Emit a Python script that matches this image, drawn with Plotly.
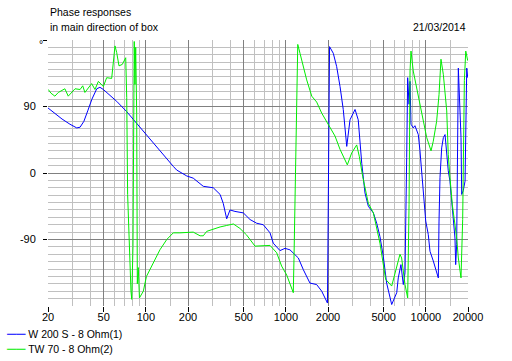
import plotly.graph_objects as go

# ---- data (frequency in Hz, phase in degrees) ----
w200_freq = [20, 22.4, 25.2, 28.7, 32.1, 33.9, 36.1, 38.6, 41.2, 44.6, 47, 49.7, 55.5, 61.9, 73, 86, 101,
             119, 141, 157, 166, 185, 196, 218, 231, 257, 303, 339, 357, 378, 399, 433, 497, 555, 619,
             690, 771, 813, 908, 986, 1070, 1228, 1334, 1486, 1660, 1804, 1982, 2052, 2182, 2306, 2438,
             2570, 2722, 2872, 3120, 3288, 3484, 3674, 3882, 4218, 4456, 4700, 4966, 5248, 5702, 6194,
             6354, 6638, 6902, 7096, 7296, 7414, 7586, 7710, 7834, 8128, 8356, 8832, 9078, 9334, 9594,
             9978, 10400, 10708, 11298, 11940, 12276, 12418, 12620, 12972, 13336, 13710, 14094, 14456,
             14860, 15312, 15704, 16144, 16332, 16598, 17062, 17540, 17826, 18032, 18494, 19056, 19276,
             19590, 19908]
w200_phase = [88, 80, 73, 66, 61, 62, 70, 85, 100, 114, 116, 113, 105, 97, 83, 67, 52,
              36, 18, 9, 4, -2, -4, -7, -11, -18, -20, -29, -41, -62, -50, -52, -54, -63, -68,
              -70, -81, -95, -105, -102, -104, -115, -131, -149, -151, -160, -176, 171, 162, 144, 117,
              86, 36, 72, 86, 72, 13, -27, -45, -54, -68, -86, -113, -149, -178, -162,
              -142, -124, -151, -135, 21, 129, 93, 124, 66, 61, 64, 52, 30, 3, -29,
              -65, -83, -106, -119, -133, -142, -65, -6, 34, 48, 52, 25, 3,
              -11, -38, -65, -88, -124, -97, 142, 93, 48, -29, -24, -11, 66,
              142, 129]

tw70_freq = [20.1, 21.0, 22.4, 23.7, 26.4, 27.9, 31.2, 33.9, 35.4, 36.7, 41.0, 43.3, 45.8, 49.7, 52.5,
             57.0, 60.2, 61.9, 64.3, 67.9, 71.8, 73, 74.1, 75.8, 77.1, 78.3, 79.3, 80.9, 82.6, 83.6,
             84.6, 86, 86.9, 88.3, 90, 95.9, 101, 113, 126, 141, 157, 175, 201, 218, 244, 257, 272,
             303, 339, 378, 422, 470, 525, 602, 690, 771, 860, 933, 1014, 1070, 1130, 1143, 1162,
             1180, 1194, 1216, 1262, 1334, 1409, 1531, 1660, 1804, 1958, 2066, 2244, 2438, 2748,
             2952, 3206, 3350, 3540, 3882, 4218, 4700, 5164, 5702, 6020, 6296, 6532, 6714, 6902,
             7096, 7414, 7586, 7710, 7834, 8128, 8600, 9078, 9594, 10140, 10890, 11298, 11940,
             12418, 12824, 13336, 14094, 14456, 14860, 15454, 16144, 16598, 17062, 17826, 18324,
             18494, 18838, 19276, 19908]
tw70_phase = [113, 108, 104, 109, 114, 104, 114, 113, 118, 109, 121, 113, 124, 117, 129,
              128, 172, 163, 145, 147, 156, 102, -29, -88, -110, -160, -171, -100, 178, 120,
              170, 80, -150, -128, -169, -160, -140, -122, -104, -90, -81, -81, -81, -80, -85, -85, -79,
              -76, -73, -71, -69, -75, -84, -99, -99, -98, -108, -126, -138, -149, -162, -117, -23,
              50, 131, 174, 162, 144, 126, 104, 96, 81, 70, 63, 50, 32, 11,
              27, 38, 22, -5, -41, -54, -95, -144, -153, -137, -124, -110, -115, -133,
              -151, -169, -43, 138, 165, 138, 115, 93, 66, 48, 30, 43, 70,
              106, 154, 133, 84, 25, -6, -43, -70, -88, -115, -142, -63,
              48, 125, 165, 152]

x_major = [20, 50, 100, 200, 500, 1000, 2000, 5000, 10000, 20000]
x_major_text = ["20", "50", "100", "200", "500", "1000", "2000", "5000", "10000", "20000"]
x_minor = [30, 40, 60, 70, 80, 90, 150, 300, 400, 600, 700, 800, 900, 1500,
           3000, 4000, 6000, 7000, 8000, 9000, 15000]
y_major = [-90, 0, 90, 180]
y_major_text = ["-90", "0", "90", ""]
y_minor = [-170, -160, -150, -140, -130, -120, -110, -100, -80, -70, -60, -50, -40, -30, -20, -10,
           10, 20, 30, 40, 50, 60, 70, 80, 100, 110, 120, 130, 140, 150, 160, 170]

series_names = ["W 200 S - 8 Ohm(1)", "TW 70 - 8 Ohm(2)"]
series_colors = ["#0000ff", "#00ee00"]

FONT = "Liberation Sans"

fig = go.Figure()
fig.add_trace(go.Scatter(x=w200_freq, y=w200_phase, mode="lines", name=series_names[0],
                         line=dict(color=series_colors[0], width=1), showlegend=False))
fig.add_trace(go.Scatter(x=tw70_freq, y=tw70_phase, mode="lines", name=series_names[1],
                         line=dict(color=series_colors[1], width=1), showlegend=False))

fig.update_layout(
    width=512, height=361, autosize=False,
    margin=dict(l=48, r=44, t=40, b=55, pad=0),
    paper_bgcolor="white", plot_bgcolor="white",
    font=dict(family=FONT, size=11, color="black"),
    xaxis=dict(type="log", range=[1.30103, 4.30103], tickmode="array",
               tickvals=x_major, ticktext=x_major_text,
               ticks="outside", ticklen=5, tickcolor="black", tickwidth=1,
               showgrid=True, gridcolor="#808080", gridwidth=1,
               minor=dict(tickvals=x_minor, showgrid=True, gridcolor="#c0c0c0", ticks=""),
               showline=False, zeroline=False, tickfont=dict(size=11), ticklabelstandoff=-4),
    yaxis=dict(range=[-180, 180], tickmode="array", tickvals=y_major, ticktext=y_major_text,
               ticks="outside", ticklen=4, tickcolor="black", tickwidth=1,
               showgrid=True, gridcolor="#808080", gridwidth=1,
               minor=dict(tickvals=y_minor, showgrid=True, gridcolor="#c0c0c0", ticks=""),
               showline=False, zeroline=False, tickfont=dict(size=11), ticklabelstandoff=5),
)

annots = [
    dict(text="Phase responses", x=0, y=1.1034, xanchor="left", yanchor="middle"),
    dict(text="in main direction of box", x=0, y=1.0489, xanchor="left", yanchor="middle"),
    dict(text="21/03/2014", x=1, y=1.0489, xanchor="right", yanchor="middle"),
    dict(text="°", x=0, y=1, xanchor="center", yanchor="middle", xshift=-7, yshift=-4),
]
for i, (nm, col) in enumerate(zip(series_names, series_colors)):
    annots.append(dict(text='<span style="color:%s;font-size:13px">──</span> %s' % (col, nm),
                       x=-0.1047, y=-0.1026 - i * 0.0564, xanchor="left", yanchor="middle"))
for a in annots:
    a.update(xref="paper", yref="paper", showarrow=False, font=dict(family=FONT, size=10.5, color="black"))
fig.update_layout(annotations=annots)

fig.write_html("out.html", config={"displayModeBar": False},
               post_script="document.body.style.margin='0';document.body.style.padding='0';")
